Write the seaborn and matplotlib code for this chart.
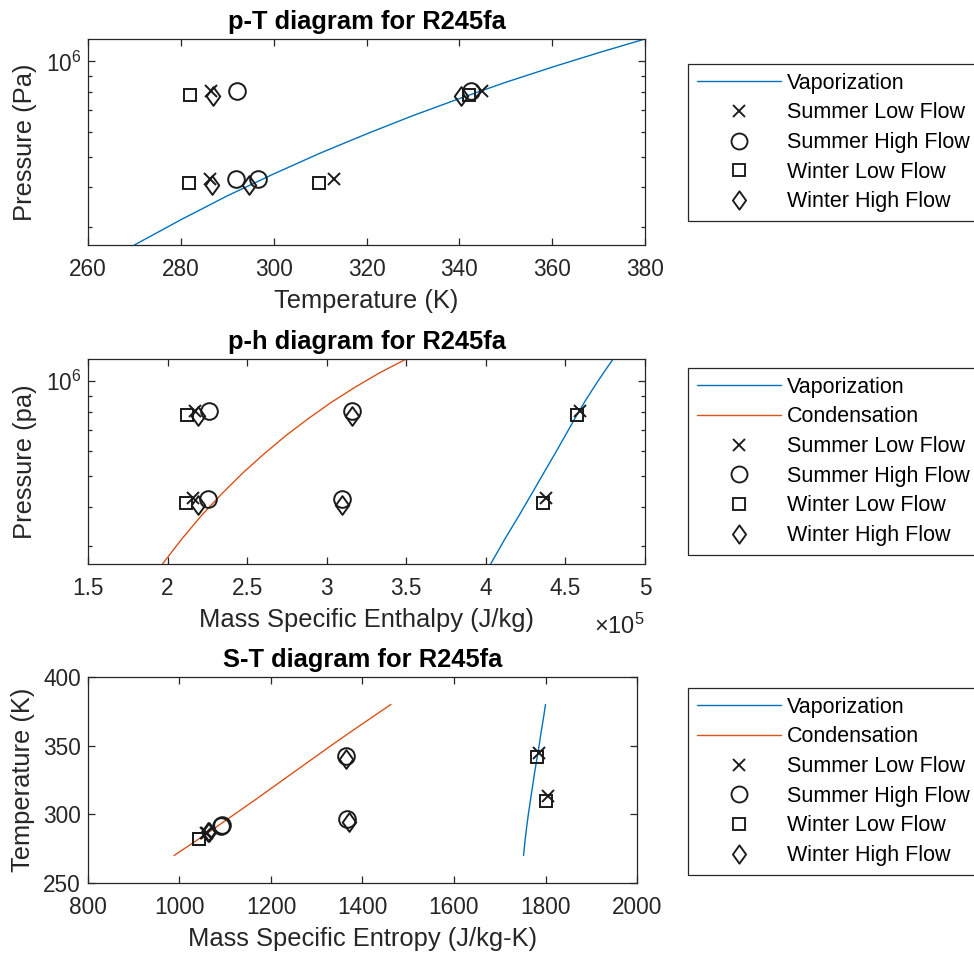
import matplotlib
matplotlib.use("Agg")
import matplotlib.pyplot as plt
import seaborn as sns
from matplotlib.lines import Line2D
from matplotlib.path import Path
from matplotlib.ticker import FixedLocator, FuncFormatter, LogLocator, NullFormatter

sns.set_theme(style="white")
plt.rcParams["font.family"] = ["Liberation Sans", "DejaVu Sans"]
plt.rcParams["mathtext.fontset"] = "custom"
plt.rcParams["mathtext.rm"] = "Liberation Sans"
plt.rcParams["mathtext.it"] = "Liberation Sans:italic"
plt.rcParams["mathtext.bf"] = "Liberation Sans:bold"

# Saturation dome of R245fa, sampled every 10 K
sat_T = [270, 280, 290, 300, 310, 320, 330, 340, 350, 360, 370, 380]
sat_P = [2.63e5, 3.16e5, 3.76e5, 4.41e5, 5.13e5, 5.90e5, 6.74e5, 7.63e5,
         8.59e5, 9.59e5, 1.065e6, 1.177e6]
sat_h_liq = [1.968e5, 2.090e5, 2.215e5, 2.344e5, 2.475e5, 2.609e5, 2.746e5,
             2.887e5, 3.031e5, 3.180e5, 3.334e5, 3.500e5]
sat_h_vap = [4.030e5, 4.120e5, 4.210e5, 4.290e5, 4.365e5, 4.435e5, 4.500e5,
             4.560e5, 4.620e5, 4.680e5, 4.740e5, 4.800e5]
sat_s_liq = [988, 1033, 1077, 1120, 1163, 1205, 1247, 1289, 1331, 1374, 1418, 1462]
sat_s_vap = [1752, 1755, 1758.5, 1762.5, 1767, 1771.5, 1776, 1781, 1786,
             1790.5, 1795.5, 1800]

# Cycle states: pump inlet, pump outlet, turbine inlet, turbine outlet
case_names = ["Summer Low Flow", "Summer High Flow", "Winter Low Flow", "Winter High Flow"]

summer_low_T = [286.2, 286.4, 344.8, 313.0]
summer_low_P = [4.26e5, 8.04e5, 8.04e5, 4.26e5]
summer_low_h = [2.16e5, 2.17e5, 4.59e5, 4.38e5]
summer_low_s = [1058, 1060, 1786, 1805]

summer_high_T = [291.8, 292.1, 342.5, 296.6]
summer_high_P = [4.24e5, 8.04e5, 8.04e5, 4.24e5]
summer_high_h = [2.255e5, 2.26e5, 3.157e5, 3.094e5]
summer_high_s = [1090, 1092, 1363, 1367]

winter_low_T = [281.7, 281.9, 342.0, 309.7]
winter_low_P = [4.12e5, 7.81e5, 7.81e5, 4.12e5]
winter_low_h = [2.116e5, 2.12e5, 4.57e5, 4.36e5]
winter_low_s = [1042, 1043, 1782, 1802]

winter_high_T = [286.8, 286.9, 340.4, 294.6]
winter_high_P = [4.06e5, 7.78e5, 7.78e5, 4.06e5]
winter_high_h = [2.19e5, 2.19e5, 3.157e5, 3.094e5]
winter_high_s = [1063, 1065, 1365, 1370]

BLUE = "#0072BD"
ORANGE = "#D95319"
INK = "#262626"

diamond = Path([(0, 1), (0.72, 0), (0, -1), (-0.72, 0), (0, 1)], closed=True)
marker_styles = {
    "Summer Low Flow": dict(marker="x", ms=9.2, leg_ms=8.4),
    "Summer High Flow": dict(marker="o", ms=12.0, leg_ms=11.5),
    "Winter Low Flow": dict(marker="s", ms=9.2, leg_ms=8.4),
    "Winter High Flow": dict(marker=diamond, ms=13.5, leg_ms=13.2),
}

cases = {
    "Summer Low Flow": (summer_low_T, summer_low_P, summer_low_h, summer_low_s),
    "Summer High Flow": (summer_high_T, summer_high_P, summer_high_h, summer_high_s),
    "Winter Low Flow": (winter_low_T, winter_low_P, winter_low_h, winter_low_s),
    "Winter High Flow": (winter_high_T, winter_high_P, winter_high_h, winter_high_s),
}

W, H = 974, 955
fig = plt.figure(figsize=(W / 100, H / 100), dpi=100)


def add_axes_px(left, top, right, bottom):
    return fig.add_axes([left / W, 1 - bottom / H, (right - left) / W, (bottom - top) / H])


ax1 = add_axes_px(88, 39, 645, 245)
ax2 = add_axes_px(88, 359, 645, 564)
ax3 = add_axes_px(88, 677, 637, 883)


def style_axes(ax):
    for sp in ax.spines.values():
        sp.set_color(INK)
        sp.set_linewidth(0.9)
    ax.tick_params(which="both", direction="in", top=True, right=True,
                   bottom=True, left=True, color=INK, labelcolor=INK,
                   labelsize=16.3, width=0.9)
    ax.tick_params(which="major", length=5)
    ax.tick_params(which="minor", length=3)
    ax.tick_params(axis="y", which="both", pad=5)
    ax.tick_params(axis="x", which="both", pad=9)
    ax.grid(False)


def draw_states(ax, xkey, ykey):
    for name in case_names:
        T, P, h, s = cases[name]
        cols = {"T": T, "P": P, "h": h, "s": s}
        st = marker_styles[name]
        sns.lineplot(x=cols[xkey], y=cols[ykey], ax=ax, estimator=None, sort=False,
                     linestyle="none", marker=st["marker"], markersize=st["ms"],
                     markerfacecolor="none", markeredgecolor="k",
                     markeredgewidth=1.4, color="k", legend=False)


def log_pressure_axis(ax):
    ax.set_yscale("log")
    ax.set_ylim(sat_P[0], sat_P[-1])
    ax.yaxis.set_major_locator(FixedLocator([1e6]))
    ax.yaxis.set_major_formatter(FuncFormatter(lambda v, p: r"$10^{6}$"))
    ax.yaxis.set_minor_locator(LogLocator(base=10, subs=range(2, 10), numticks=20))
    ax.yaxis.set_minor_formatter(NullFormatter())


def add_legend(top_px, with_condensation):
    handles = [Line2D([], [], color=BLUE, lw=1.0)]
    labels = ["Vaporization"]
    if with_condensation:
        handles.append(Line2D([], [], color=ORANGE, lw=1.0))
        labels.append("Condensation")
    for name in case_names:
        st = marker_styles[name]
        handles.append(Line2D([], [], linestyle="none", marker=st["marker"],
                              markersize=st["leg_ms"], markerfacecolor="none",
                              markeredgecolor="k", markeredgewidth=1.35))
        labels.append(name)
    leg = fig.legend(handles, labels, loc="upper left",
                     bbox_to_anchor=(688 / W, 1 - top_px / H),
                     bbox_transform=fig.transFigure, borderaxespad=0,
                     frameon=True, fancybox=False, framealpha=1,
                     edgecolor=INK, fontsize=15.5, handlelength=3.9,
                     handletextpad=0.3, labelspacing=0.405, borderpad=0.4)
    leg.get_frame().set_linewidth(0.9)
    for t in leg.get_texts():
        t.set_color("black")


title_kw = dict(fontsize=18.4, fontweight="bold", pad=7, color="black")
label_kw = dict(fontsize=18.4, color=INK, labelpad=6)

# p-T diagram
sns.lineplot(x=sat_T, y=sat_P, ax=ax1, color=BLUE, lw=1.0, sort=False, estimator=None)
draw_states(ax1, "T", "P")
log_pressure_axis(ax1)
ax1.set_xlim(260, 380)
ax1.set_xticks([260, 280, 300, 320, 340, 360, 380])
ax1.set_title("p-T diagram for R245fa", **title_kw)
ax1.set_xlabel("Temperature (K)", **label_kw)
ax1.set_ylabel("Pressure (Pa)", **label_kw)
style_axes(ax1)
add_legend(64, False)

# p-h diagram
sns.lineplot(x=sat_h_vap, y=sat_P, ax=ax2, color=BLUE, lw=1.0, sort=False, estimator=None)
sns.lineplot(x=sat_h_liq, y=sat_P, ax=ax2, color=ORANGE, lw=1.0, sort=False, estimator=None)
draw_states(ax2, "h", "P")
log_pressure_axis(ax2)
ax2.set_xlim(1.5e5, 5e5)
ax2.set_xticks([1.5e5, 2e5, 2.5e5, 3e5, 3.5e5, 4e5, 4.5e5, 5e5])
hfmt = FuncFormatter(lambda v, p: f"{v / 1e5:g}")
hfmt.set_offset_string(r"$\times10^{5}$")
ax2.xaxis.set_major_formatter(hfmt)
ax2.xaxis.OFFSETTEXTPAD = 10
ax2.xaxis.get_offset_text().set_fontsize(17)
ax2.xaxis.get_offset_text().set_color(INK)
ax2.set_title("p-h diagram for R245fa", **title_kw)
ax2.set_xlabel("Mass Specific Enthalpy (J/kg)", **label_kw)
ax2.set_ylabel("Pressure (pa)", **label_kw)
style_axes(ax2)
add_legend(368, True)

# S-T diagram
sns.lineplot(x=sat_s_vap, y=sat_T, ax=ax3, color=BLUE, lw=1.0, sort=False, estimator=None)
sns.lineplot(x=sat_s_liq, y=sat_T, ax=ax3, color=ORANGE, lw=1.0, sort=False, estimator=None)
draw_states(ax3, "s", "T")
ax3.set_xlim(800, 2000)
ax3.set_ylim(250, 400)
ax3.set_xticks([800, 1000, 1200, 1400, 1600, 1800, 2000])
ax3.set_yticks([250, 300, 350, 400])
ax3.set_title("S-T diagram for R245fa", **title_kw)
ax3.set_xlabel("Mass Specific Entropy (J/kg-K)", **label_kw)
ax3.set_ylabel("Temperature (K)", **label_kw)
style_axes(ax3)
add_legend(688, True)

fig.savefig("out.png", dpi=100, facecolor="white")
